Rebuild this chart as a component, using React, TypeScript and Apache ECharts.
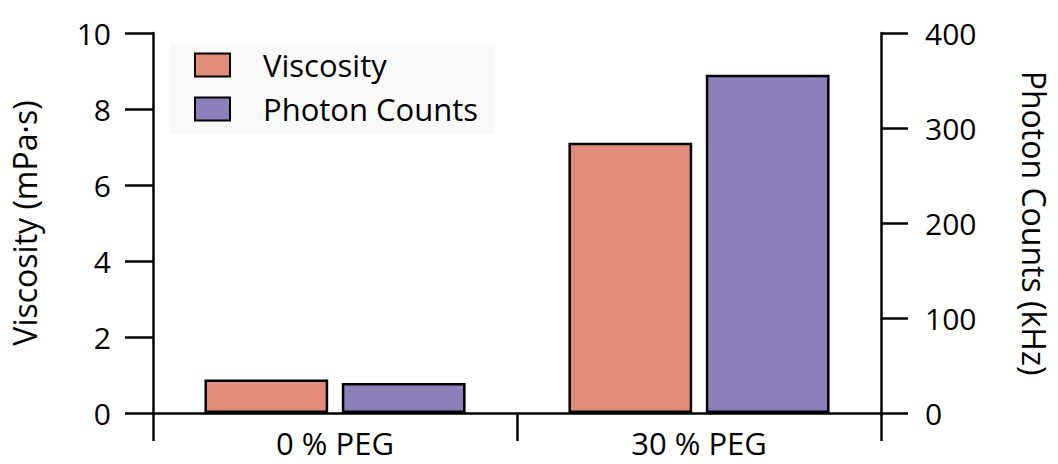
import React, { useEffect, useRef } from "react";
import * as echarts from "echarts";

const categories = ["0 % PEG", "30 % PEG"];
const viscosity = [0.88, 7.11];
const photonCounts = [31.5, 356];
const leftTicks = [0, 2, 4, 6, 8, 10];
const rightTicks = [0, 100, 200, 300, 400];

const FONT = "Open Sans";

export default function App() {
  const ref = useRef<HTMLDivElement>(null);
  useEffect(() => {
    document.body.style.margin = "0";
    const chart = echarts.init(ref.current!, undefined, { renderer: "svg" });
    const axisLine = { show: true, lineStyle: { color: "#000", width: 2.5 } };
    chart.setOption({
      animation: false,
      backgroundColor: "#fff",
      textStyle: { fontFamily: FONT, color: "#000" },
      grid: { left: 152, right: 176, top: 33, bottom: 51, containLabel: false },
      legend: {
        orient: "vertical",
        left: 170,
        top: 43,
        padding: [5, 17, 8, 24],
        backgroundColor: "#f9f9f9",
        itemWidth: 35,
        itemHeight: 23,
        itemGap: 10,
        icon: "rect",
        itemStyle: { borderColor: "#000", borderWidth: 2 },
        textStyle: { fontFamily: FONT, fontSize: 31, color: "#000", padding: [0, 0, 0, 28], lineHeight: 34 },
        data: ["Viscosity", "Photon Counts"],
      },
      xAxis: {
        type: "category",
        data: categories,
        axisLine,
        axisTick: { show: true, inside: false, length: 28, alignWithLabel: false, lineStyle: { color: "#000", width: 2.5 } },
        axisLabel: { fontFamily: FONT, fontSize: 31, color: "#000", margin: 14 },
        splitLine: { show: false },
      },
      yAxis: [
        {
          type: "value",
          min: leftTicks[0],
          max: leftTicks[leftTicks.length - 1],
          interval: leftTicks[1] - leftTicks[0],
          position: "left",
          name: "Viscosity (mPa·s)",
          nameLocation: "middle",
          nameRotate: 90,
          nameGap: 113,
          nameTextStyle: { fontFamily: FONT, fontSize: 32, color: "#000" },
          axisLine,
          axisTick: { show: true, inside: false, length: 28, lineStyle: { color: "#000", width: 2.5 } },
          axisLabel: { fontFamily: FONT, fontSize: 30, color: "#000", margin: 42 },
          splitLine: { show: false },
        },
        {
          type: "value",
          min: rightTicks[0],
          max: rightTicks[rightTicks.length - 1],
          interval: rightTicks[1] - rightTicks[0],
          position: "right",
          name: "Photon Counts (kHz)",
          nameLocation: "middle",
          nameRotate: -90,
          nameGap: 137,
          nameTextStyle: { fontFamily: FONT, fontSize: 32, color: "#000" },
          axisLine,
          axisTick: { show: true, inside: false, length: 27, lineStyle: { color: "#000", width: 2.5 } },
          axisLabel: { fontFamily: FONT, fontSize: 30, color: "#000", margin: 44 },
          splitLine: { show: false },
        },
      ],
      series: [
        {
          name: "Viscosity",
          type: "bar",
          yAxisIndex: 0,
          data: viscosity,
          barWidth: "34%",
          barGap: "11%",
          itemStyle: { color: "#e08c78", borderColor: "#000", borderWidth: 2.5 },
        },
        {
          name: "Photon Counts",
          type: "bar",
          yAxisIndex: 1,
          data: photonCounts,
          barWidth: "34%",
          barGap: "11%",
          itemStyle: { color: "#8d80ba", borderColor: "#000", borderWidth: 2.5 },
        },
      ],
    });
    return () => chart.dispose();
  }, []);
  return <div ref={ref} style={{ position: "fixed", left: 0, top: 0, width: 1058, height: 464 }} />;
}
